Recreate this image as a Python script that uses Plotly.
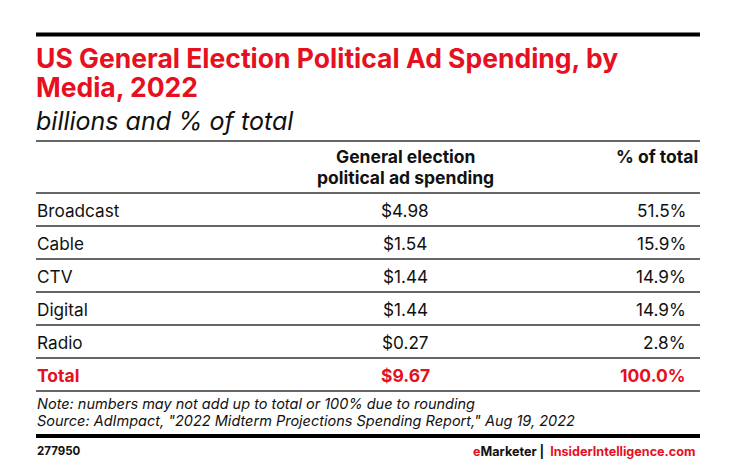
import plotly.graph_objects as go

media = ["Broadcast", "Cable", "CTV", "Digital", "Radio"]
spending = [4.98, 1.54, 1.44, 1.44, 0.27]
share = [51.5, 15.9, 14.9, 14.9, 2.8]
total_label = "Total"
total_spending = 9.67
total_share = 100.0

RED = "#e6101f"
BLACK = "#111111"
FONT = "Inter"
OFF = 8  # page body margin compensation

fig = go.Figure()
fig.update_layout(
    width=730, height=468, margin=dict(l=0, r=0, t=0, b=0),
    paper_bgcolor="white", plot_bgcolor="white", showlegend=False,
    xaxis=dict(range=[OFF, 730 + OFF], visible=False, fixedrange=True),
    yaxis=dict(range=[468 + OFF, OFF], visible=False, fixedrange=True),
)

L, R = 36, 700
shapes = []
def hline(y, w, color="#333333"):
    shapes.append(dict(type="line", x0=L, x1=R, y0=y, y1=y, xref="x", yref="y",
                       line=dict(color=color, width=w)))

hline(34.5, 4, "#000000")
hline(141, 1.3)
hline(193, 1.3)
row_y0 = 210
pitch = 33.0
for i in range(len(media) + 1):
    hline(226 + i * pitch, 1.3)
hline(436, 4, "#000000")
fig.update_layout(shapes=shapes)

ann = []
def text(x, y, s, size, color=BLACK, anchor="left", bold=False, italic=False, valign="middle"):
    if bold:
        s = f"<b>{s}</b>"
    if italic:
        s = f"<i>{s}</i>"
    ann.append(dict(x=x, y=y, xref="x", yref="y", text=s, showarrow=False,
                    xanchor=anchor, yanchor=valign, align=anchor if anchor != "center" else "center",
                    font=dict(family=FONT, size=size, color=color)))

text(L - 2, 58, "US General Election Political Ad Spending, by", 26.5, RED, bold=True)
text(L - 2, 87, "Media, 2022", 26.5, RED, bold=True)
text(L - 2, 121, "billions and % of total", 25, BLACK, italic=True)

text(405, 156, "General election", 17.5, bold=True, anchor="center")
text(405, 177, "political ad spending", 17.5, bold=True, anchor="center")
text(R, 156, "% of total", 17.5, bold=True, anchor="right")

for i, (m, v, p) in enumerate(zip(media, spending, share)):
    y = row_y0 + i * pitch
    text(L - 1, y, m, 17.2)
    text(405, y, f"${v:.2f}", 17.2, anchor="center")
    text(688, y, f"{p:.1f}%", 17.2, anchor="right")

yt = row_y0 + len(media) * pitch
text(L - 1, yt, total_label, 17.5, RED, bold=True)
text(405, yt, f"${total_spending:.2f}", 17.5, RED, bold=True, anchor="center")
text(688, yt, f"{total_share:.1f}%", 17.5, RED, bold=True, anchor="right")

text(L - 1, 403.5, "Note: numbers may not add up to total or 100% due to rounding", 14.5, italic=True)
text(L - 1, 421, "Source: AdImpact, \"2022 Midterm Projections Spending Report,\" Aug 19, 2022", 14.5, italic=True)

text(L - 1, 451, "277950", 11.5, bold=True)
text(697, 451, f"<span style='color:{RED}'>e</span>Marketer |  <span style='color:{RED}'>InsiderIntelligence.com</span>", 12.6, bold=True, anchor="right")

fig.update_layout(annotations=ann)
fig.write_html("out.html")
